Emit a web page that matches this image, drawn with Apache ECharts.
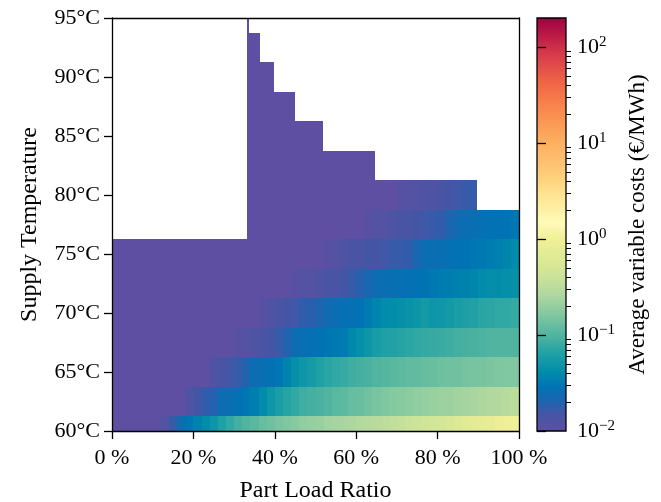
<!DOCTYPE html>
<html><head><meta charset="utf-8">
<script src="https://cdn.jsdelivr.net/npm/echarts@6/dist/echarts.min.js"></script>
<style>html,body{margin:0;padding:0;background:#fff}#c{width:661px;height:502px}</style>
</head><body><div id="c"></div>
<script>
const _ = null;
// Supply temperature rows (°C, cell centres)
const temperatures = [60, 62.5, 65, 67.5, 70, 72.5, 75, 77.5, 80, 82.5, 85, 87.5, 90, 92.5, 95];
// Part load ratio columns (%, left edges), each 2 % wide
const plrColumnStarts = [0,2,4,6,8,10,12,14,16,18,20,22,24,26,28,30,32,34,36,38,40,42,44,46,48,50,52,54,56,58,60,62,64,66,68,70,72,74,76,78,80,82,84,86,88,90,92,94,96,98];
const colWidth = 2;
const tempStep = 2.5;
// feasible PLR range per temperature row
const rowStart = [0, 0, 0, 0, 0, 0, 0, 33.1, 33.1, 33.1, 33.1, 33.1, 33.1, 33.1, 33.1];
const rowEnd   = [100, 100, 100, 100, 100, 100, 100, 100, 89.6, 64.7, 51.8, 45, 39.8, 36.2, 33.7];

// Average variable costs (€/MWh)
const cost60   = [0.01,0.01,0.01,0.01,0.01,0.01,0.012,0.017,0.024,0.03,0.036,0.043,0.05,0.063,0.075,0.09,0.1,0.11,0.125,0.135,0.15,0.16,0.175,0.19,0.2,0.21,0.23,0.24,0.25,0.26,0.28,0.29,0.31,0.33,0.35,0.37,0.4,0.42,0.45,0.48,0.5,0.55,0.6,0.65,0.7,0.75,0.8,0.9,0.95,1.0];
const cost62_5 = [0.01,0.01,0.01,0.01,0.01,0.01,0.01,0.01,0.01,0.013,0.015,0.018,0.02,0.025,0.026,0.027,0.03,0.034,0.042,0.05,0.06,0.068,0.075,0.085,0.09,0.095,0.1,0.11,0.115,0.125,0.13,0.14,0.15,0.16,0.17,0.175,0.18,0.19,0.2,0.21,0.22,0.22,0.23,0.24,0.25,0.26,0.27,0.28,0.3,0.32];
const cost65   = [0.01,0.01,0.01,0.01,0.01,0.01,0.01,0.01,0.01,0.01,0.01,0.01,0.013,0.014,0.016,0.017,0.02,0.025,0.026,0.027,0.03,0.036,0.045,0.05,0.056,0.063,0.07,0.075,0.08,0.085,0.09,0.095,0.1,0.105,0.11,0.115,0.12,0.12,0.125,0.13,0.135,0.14,0.14,0.145,0.15,0.15,0.155,0.16,0.16,0.165];
const cost67_5 = [0.01,0.01,0.01,0.01,0.01,0.01,0.01,0.01,0.01,0.01,0.01,0.01,0.01,0.01,0.01,0.011,0.012,0.013,0.014,0.015,0.017,0.02,0.025,0.026,0.027,0.028,0.03,0.031,0.033,0.04,0.045,0.05,0.058,0.063,0.065,0.068,0.072,0.075,0.078,0.08,0.082,0.085,0.09,0.092,0.095,0.097,0.1,0.1,0.1,0.1];
const cost70   = [0.01,0.01,0.01,0.01,0.01,0.01,0.01,0.01,0.01,0.01,0.01,0.01,0.01,0.01,0.01,0.01,0.01,0.01,0.011,0.013,0.014,0.015,0.016,0.018,0.019,0.021,0.024,0.026,0.027,0.027,0.028,0.032,0.037,0.042,0.043,0.045,0.048,0.05,0.055,0.05,0.052,0.055,0.06,0.062,0.065,0.07,0.072,0.075,0.075,0.078];
const cost72_5 = [0.01,0.01,0.01,0.01,0.01,0.01,0.01,0.01,0.01,0.01,0.01,0.01,0.01,0.01,0.01,0.01,0.01,0.01,0.01,0.01,0.01,0.01,0.011,0.012,0.012,0.013,0.014,0.014,0.015,0.017,0.019,0.022,0.025,0.026,0.026,0.027,0.027,0.028,0.029,0.031,0.033,0.034,0.035,0.036,0.038,0.042,0.044,0.043,0.045,0.046];
const cost75   = [0.01,0.01,0.01,0.01,0.01,0.01,0.01,0.01,0.01,0.01,0.01,0.01,0.01,0.01,0.01,0.01,0.01,0.01,0.01,0.01,0.01,0.01,0.01,0.01,0.01,0.01,0.011,0.012,0.013,0.014,0.014,0.015,0.015,0.016,0.017,0.017,0.018,0.022,0.025,0.026,0.026,0.027,0.028,0.029,0.03,0.031,0.033,0.035,0.038,0.042];
const cost77_5 = [_,_,_,_,_,_,_,_,_,_,_,_,_,_,_,_,0.01,0.01,0.01,0.01,0.01,0.01,0.01,0.01,0.01,0.01,0.01,0.01,0.01,0.01,0.01,0.011,0.012,0.012,0.013,0.014,0.014,0.015,0.016,0.017,0.018,0.021,0.024,0.026,0.026,0.027,0.028,0.028,0.029,0.03];
const cost80   = [_,_,_,_,_,_,_,_,_,_,_,_,_,_,_,_,0.01,0.01,0.01,0.01,0.01,0.01,0.01,0.01,0.01,0.01,0.01,0.01,0.01,0.01,0.01,0.01,0.01,0.01,0.01,0.011,0.012,0.012,0.013,0.013,0.014,0.015,0.016,0.017,0.017,_,_,_,_,_];
const cost82_5 = [_,_,_,_,_,_,_,_,_,_,_,_,_,_,_,_,0.01,0.01,0.01,0.01,0.01,0.01,0.01,0.01,0.01,0.01,0.01,0.01,0.01,0.01,0.01,0.01,0.01,_,_,_,_,_,_,_,_,_,_,_,_,_,_,_,_,_];
const cost85   = [_,_,_,_,_,_,_,_,_,_,_,_,_,_,_,_,0.01,0.01,0.01,0.01,0.01,0.01,0.01,0.01,0.01,0.01,_,_,_,_,_,_,_,_,_,_,_,_,_,_,_,_,_,_,_,_,_,_,_,_];
const cost87_5 = [_,_,_,_,_,_,_,_,_,_,_,_,_,_,_,_,0.01,0.01,0.01,0.01,0.01,0.01,0.01,_,_,_,_,_,_,_,_,_,_,_,_,_,_,_,_,_,_,_,_,_,_,_,_,_,_,_];
const cost90   = [_,_,_,_,_,_,_,_,_,_,_,_,_,_,_,_,0.01,0.01,0.01,0.01,_,_,_,_,_,_,_,_,_,_,_,_,_,_,_,_,_,_,_,_,_,_,_,_,_,_,_,_,_,_];
const cost92_5 = [_,_,_,_,_,_,_,_,_,_,_,_,_,_,_,_,0.01,0.01,0.01,_,_,_,_,_,_,_,_,_,_,_,_,_,_,_,_,_,_,_,_,_,_,_,_,_,_,_,_,_,_,_];
const cost95   = [_,_,_,_,_,_,_,_,_,_,_,_,_,_,_,_,0.01,_,_,_,_,_,_,_,_,_,_,_,_,_,_,_,_,_,_,_,_,_,_,_,_,_,_,_,_,_,_,_,_,_];
const costRows = [cost60, cost62_5, cost65, cost67_5, cost70, cost72_5, cost75, cost77_5, cost80, cost82_5, cost85, cost87_5, cost90, cost92_5, cost95];

const cbarMin = 0.01, cbarMax = 200;
const cbarMajorExp = [-2, -1, 0, 1, 2];

// colour map (log10 cost -> colour)
const cmapStops = [
  [-2.00,[94,79,162]],[-1.82,[70,85,165]],[-1.69,[30,100,175]],[-1.54,[0,115,180]],
  [-1.38,[0,140,170]],[-1.20,[30,160,165]],[-1.00,[80,180,160]],[-0.78,[130,200,160]],
  [-0.58,[175,215,160]],[-0.39,[203,227,152]],[-0.21,[222,234,148]],[0.00,[240,240,150]],
  [0.17,[255,250,185]],[0.30,[254,240,165]],[0.48,[254,225,145]],[0.62,[254,210,125]],
  [0.83,[253,190,110]],[1.01,[253,175,95]],[1.40,[248,130,75]],[1.63,[240,100,70]],
  [1.91,[215,60,75]],[2.09,[190,30,70]],[2.301,[158,1,66]]
];
const lMin = Math.log10(cbarMin), lMax = Math.log10(cbarMax);
function rgb(c){return 'rgb('+c.map(Math.round).join(',')+')';}
function cmapAt(v){
  if (v <= cmapStops[0][0]) return cmapStops[0][1];
  for (let i=1;i<cmapStops.length;i++){
    if (v <= cmapStops[i][0]){
      const a=cmapStops[i-1], b=cmapStops[i], t=(v-a[0])/(b[0]-a[0]);
      return a[1].map((x,k)=>x+(b[1][k]-x)*t);
    }
  }
  return cmapStops[cmapStops.length-1][1];
}
const NS = 160;
const vmColors = [];
for (let i=0;i<NS;i++){ vmColors.push(rgb(cmapAt(lMin+(lMax-lMin)*i/(NS-1)))); }
const gradStops = cmapStops.map(s=>({offset:(s[0]-lMin)/(lMax-lMin), color:rgb(s[1])}));

const minorTicks = [];
for (let e=-2;e<=1;e++){ for (let k=2;k<=9;k++){ minorTicks.push(Math.log10(k*Math.pow(10,e))); } }

// build cells
const cells = [];
temperatures.forEach((T, r) => {
  costRows[r].forEach((v, c) => {
    if (v == null) return;
    const x0 = Math.max(plrColumnStarts[c], rowStart[r]);
    const x1 = Math.min(plrColumnStarts[c] + colWidth, rowEnd[r]);
    if (x1 <= x0) return;
    cells.push([x0, x1, T, Math.log10(v)]);
  });
});

const FONT = 'Liberation Serif';
const FS = 22;
const FT = 24;
const lineStyle = {color:'#000', width:1.3};
const chart = echarts.init(document.getElementById('c'), null, {renderer:'canvas'});
chart.setOption({
  animation:false,
  backgroundColor:'#fff',
  textStyle:{fontFamily:FONT},
  grid:[
    {left:112, top:18, width:407, height:413, containLabel:false, outerBoundsMode:'none'},
    {left:537, top:18, width:29, height:413, containLabel:false, outerBoundsMode:'none'}
  ],
  visualMap:{show:false, seriesIndex:0, dimension:3, min:lMin, max:lMax, inRange:{color:vmColors}},
  xAxis:[
    {gridIndex:0, type:'value', min:0, max:100, interval:20, position:'bottom', z:10,
     axisLine:{show:true, onZero:false, lineStyle}, axisTick:{show:true, length:8, lineStyle},
     splitLine:{show:false},
     axisLabel:{formatter:'{value} %', color:'#000', fontFamily:FONT, fontSize:FS, margin:16},
     name:'Part Load Ratio', nameLocation:'middle', nameGap:48,
     nameTextStyle:{color:'#000', fontFamily:FONT, fontSize:FT}},
    {gridIndex:0, type:'value', min:0, max:100, position:'top', z:10,
     axisLine:{show:true, onZero:false, lineStyle}, axisTick:{show:false}, axisLabel:{show:false}, splitLine:{show:false}},
    {gridIndex:1, type:'value', min:0, max:1, show:false}
  ],
  yAxis:[
    {gridIndex:0, type:'value', min:60, max:95, interval:5, position:'left', z:10,
     axisLine:{show:true, onZero:false, lineStyle}, axisTick:{show:true, length:8, lineStyle},
     splitLine:{show:false},
     axisLabel:{formatter:'{value}°C', color:'#000', fontFamily:FONT, fontSize:FS, margin:12},
     name:'Supply Temperature', nameLocation:'middle', nameGap:70,
     nameTextStyle:{color:'#000', fontFamily:FONT, fontSize:FT}},
    {gridIndex:0, type:'value', min:60, max:95, position:'right', z:10,
     axisLine:{show:true, onZero:false, lineStyle}, axisTick:{show:false}, axisLabel:{show:false}, splitLine:{show:false}},
    {gridIndex:1, type:'value', min:lMin, max:lMax, interval:1, position:'right', z:10,
     axisLine:{show:false}, splitLine:{show:false},
     axisTick:{show:true, length:9, lineStyle, customValues:cbarMajorExp},
     axisLabel:{show:true, margin:11, customValues:cbarMajorExp,
       formatter:(v)=>{const e=Math.round(v); return '{b|10}{s|'+(e<0?'\u2212'+(-e):e)+'}';},
       rich:{b:{fontFamily:FONT, fontSize:FS, color:'#000', lineHeight:24},
             s:{fontFamily:FONT, fontSize:15, color:'#000', lineHeight:8, verticalAlign:'top'}}},
     name:'Average variable costs (€/MWh)', nameLocation:'middle', nameGap:60,
     nameTextStyle:{color:'#000', fontFamily:FONT, fontSize:23}},
    {gridIndex:1, type:'value', min:lMin, max:lMax, position:'right', z:10,
     axisLine:{show:false}, splitLine:{show:false}, axisLabel:{show:false},
     axisTick:{show:true, length:5, lineStyle:{color:'#000', width:1}, customValues:minorTicks}}
  ],
  series:[
    {type:'custom', xAxisIndex:0, yAxisIndex:0, clip:true, data:cells,
     dimensions:['x0','x1','T','logCost'], encode:{x:[0,1], y:2},
     renderItem:(params, api)=>{
       const T = api.value(2);
       const p0 = api.coord([api.value(0), T + tempStep/2]);
       const p1 = api.coord([api.value(1), T - tempStep/2]);
       const xa = Math.round(p0[0]), xb = Math.round(p1[0]);
       const ya = Math.round(p0[1]), yb = Math.round(p1[1]);
       return {type:'rect', shape:{x:xa, y:ya, width:Math.max(xb-xa,1), height:yb-ya},
               style:{fill:api.visual('color')}};
     }},
    {type:'custom', xAxisIndex:2, yAxisIndex:2, data:[[0, lMin]], silent:true, z:5,
     renderItem:(params, api)=>{
       const p0 = api.coord([0, lMax]);
       const p1 = api.coord([1, lMin]);
       return {type:'rect', shape:{x:p0[0], y:p0[1], width:p1[0]-p0[0], height:p1[1]-p0[1]},
               style:{fill:new echarts.graphic.LinearGradient(0,1,0,0,gradStops), stroke:'#000', lineWidth:1.3}};
     }}
  ]
});
</script></body></html>
